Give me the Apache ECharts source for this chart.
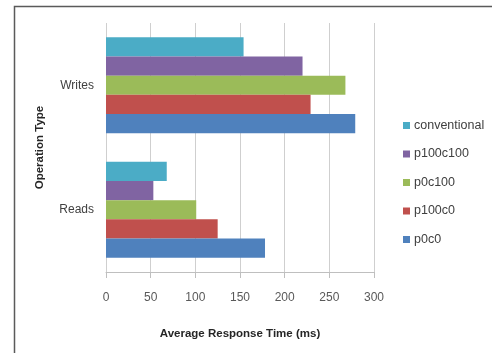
<!DOCTYPE html>
<html>
<head>
<meta charset="utf-8">
<script src="https://cdn.jsdelivr.net/npm/echarts@6/dist/echarts.min.js"></script>
<style>
  html, body { margin: 0; padding: 0; background: #fff; }
  #chart { width: 492px; height: 353px; }
</style>
</head>
<body>
<div id="chart"></div>
<script>
// Operation types (bottom to top on the category axis)
const categories = ['Reads', 'Writes'];

// Average response time in ms per configuration, [Reads, Writes]
const p0c0 = [178, 279];
const p100c0 = [125, 229];
const p0c100 = [101, 268];
const p100c100 = [53, 220];
const conventional = [68, 154];

// Series listed top-to-bottom within each category band
const seriesNames = ['conventional', 'p100c100', 'p0c100', 'p100c0', 'p0c0'];
const seriesValues = [conventional, p100c100, p0c100, p100c0, p0c0];
const seriesColors = ['#4BACC6', '#8064A2', '#9BBB59', '#C0504D', '#4F81BD'];

const xTicks = { min: 0, max: 300, interval: 50 };

const font = 'Liberation Sans, Arial, sans-serif';

const chart = echarts.init(document.getElementById('chart'), null, { renderer: 'canvas' });

chart.setOption({
  animation: false,
  backgroundColor: '#ffffff',
  textStyle: { fontFamily: font },
  grid: { left: 106, right: 118, top: 23, bottom: 81, containLabel: false },
  legend: {
    orient: 'vertical',
    left: 398,
    top: 114,
    data: seriesNames,
    icon: 'rect',
    itemWidth: 7,
    itemHeight: 7,
    itemGap: 15.5,
    textStyle: { fontFamily: font, fontSize: 12.5, color: '#404040', padding: [0, 0, 0, -1] }
  },
  xAxis: {
    type: 'value',
    min: xTicks.min,
    max: xTicks.max,
    interval: xTicks.interval,
    name: 'Average Response Time (ms)',
    nameLocation: 'middle',
    nameGap: 56,
    nameTextStyle: { fontFamily: font, fontSize: 11.5, fontWeight: 'bold', color: '#262626' },
    axisLine: { show: true, lineStyle: { color: '#bfbfbf', width: 1 } },
    axisTick: { show: true, length: 6, lineStyle: { color: '#bfbfbf' } },
    axisLabel: { margin: 20, fontSize: 12, color: '#595959' },
    splitLine: { show: true, lineStyle: { color: '#cfcfcf', width: 1 } }
  },
  yAxis: {
    type: 'category',
    data: categories,
    inverse: false,
    name: 'Operation Type',
    nameLocation: 'middle',
    nameGap: 60,
    nameTextStyle: { fontFamily: font, fontSize: 11.5, fontWeight: 'bold', color: '#262626' },
    axisLine: { show: false },
    axisTick: { show: false },
    axisLabel: { margin: 12, fontSize: 12, color: '#404040' }
  },
  series: seriesNames.map((name, i) => ({
    name: name,
    type: 'bar',
    data: seriesValues[i],
    barGap: '0%',
    barCategoryGap: '23%',
    itemStyle: { color: seriesColors[i] }
  })),
  graphic: [
    {
      type: 'polyline',
      silent: true,
      shape: { points: [[14.5, 353], [14.5, 6.5], [492, 6.5]] },
      style: { stroke: '#5a5a5a', lineWidth: 1.5, fill: null }
    }
  ]
});
</script>
</body>
</html>
